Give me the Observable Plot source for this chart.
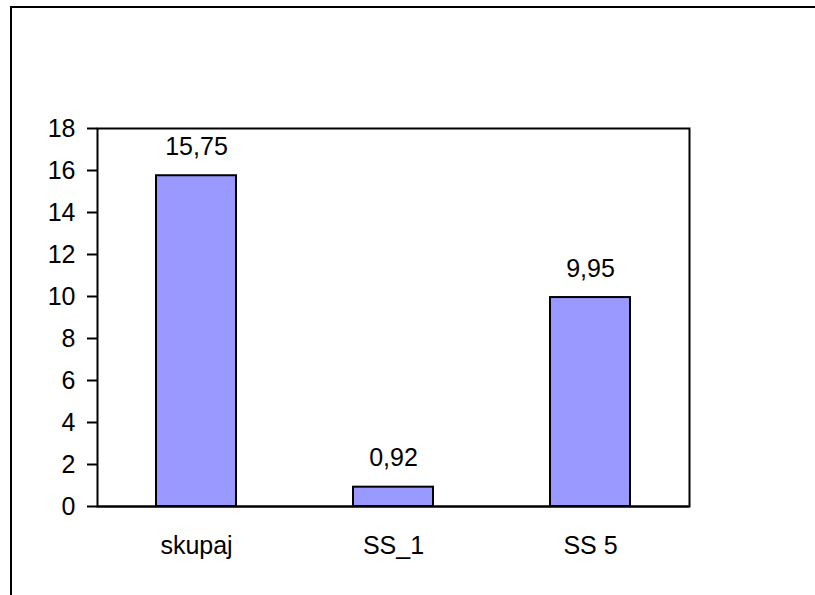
<!DOCTYPE html>
<html>
<head>
<meta charset="utf-8">
<script src="https://cdn.jsdelivr.net/npm/d3@7"></script>
<script src="https://cdn.jsdelivr.net/npm/@observablehq/plot@0.6"></script>
<style>
  html, body { margin: 0; padding: 0; background: #fff; }
  #wrap { position: relative; width: 815px; height: 595px; overflow: hidden; }
  #wrap svg { position: absolute; left: 0; top: 0; }
  #edge { position: absolute; left: 10px; top: 6px; right: -10px; bottom: -10px;
          border-left: 2px solid #000; border-top: 2px solid #000; pointer-events: none; }
</style>
</head>
<body>
<div id="wrap"><div id="edge"></div></div>
<script>
// Categories and their values
const categories = ["skupaj", "SS_1", "SS 5"];
const values = [15.75, 0.92, 9.95];
const valueLabels = ["15,75", "0,92", "9,95"];
const yTicks = [0, 2, 4, 6, 8, 10, 12, 14, 16, 18];

const rows = categories.map((c, i) => ({cat: c, val: values[i], label: valueLabels[i]}));

const font = "Liberation Sans, Arial, sans-serif";
const fs = 25;

const chart = Plot.plot({
  width: 815,
  height: 595,
  marginLeft: 97,
  marginRight: 126,
  marginTop: 128,
  marginBottom: 89,
  style: {fontFamily: font, fontSize: fs + "px", color: "#000", background: "transparent"},
  x: {domain: categories, paddingInner: 0.595, paddingOuter: 0.294, label: null},
  y: {domain: [0, 18], label: null},
  marks: [
    Plot.frame({stroke: "#000", strokeWidth: 2}),
    Plot.barY(rows, {x: "cat", y: "val", fill: "#9999FF", stroke: "#000", strokeWidth: 2}),
    Plot.text(rows, {x: "cat", y: "val", text: "label", dy: -29, fontSize: fs, fill: "#000"}),
    Plot.axisY({ticks: yTicks, tickSize: 10, tickPadding: 12, tickFormat: d => String(d),
                stroke: "#000", strokeWidth: 2, strokeOpacity: 1, fontSize: fs, label: null}),
    Plot.axisX({tickSize: 0, tickPadding: 30, fontSize: fs, label: null}),
    Plot.ruleY([0], {stroke: "#000", strokeWidth: 2})
  ]
});
document.getElementById("wrap").prepend(chart);
</script>
</body>
</html>
